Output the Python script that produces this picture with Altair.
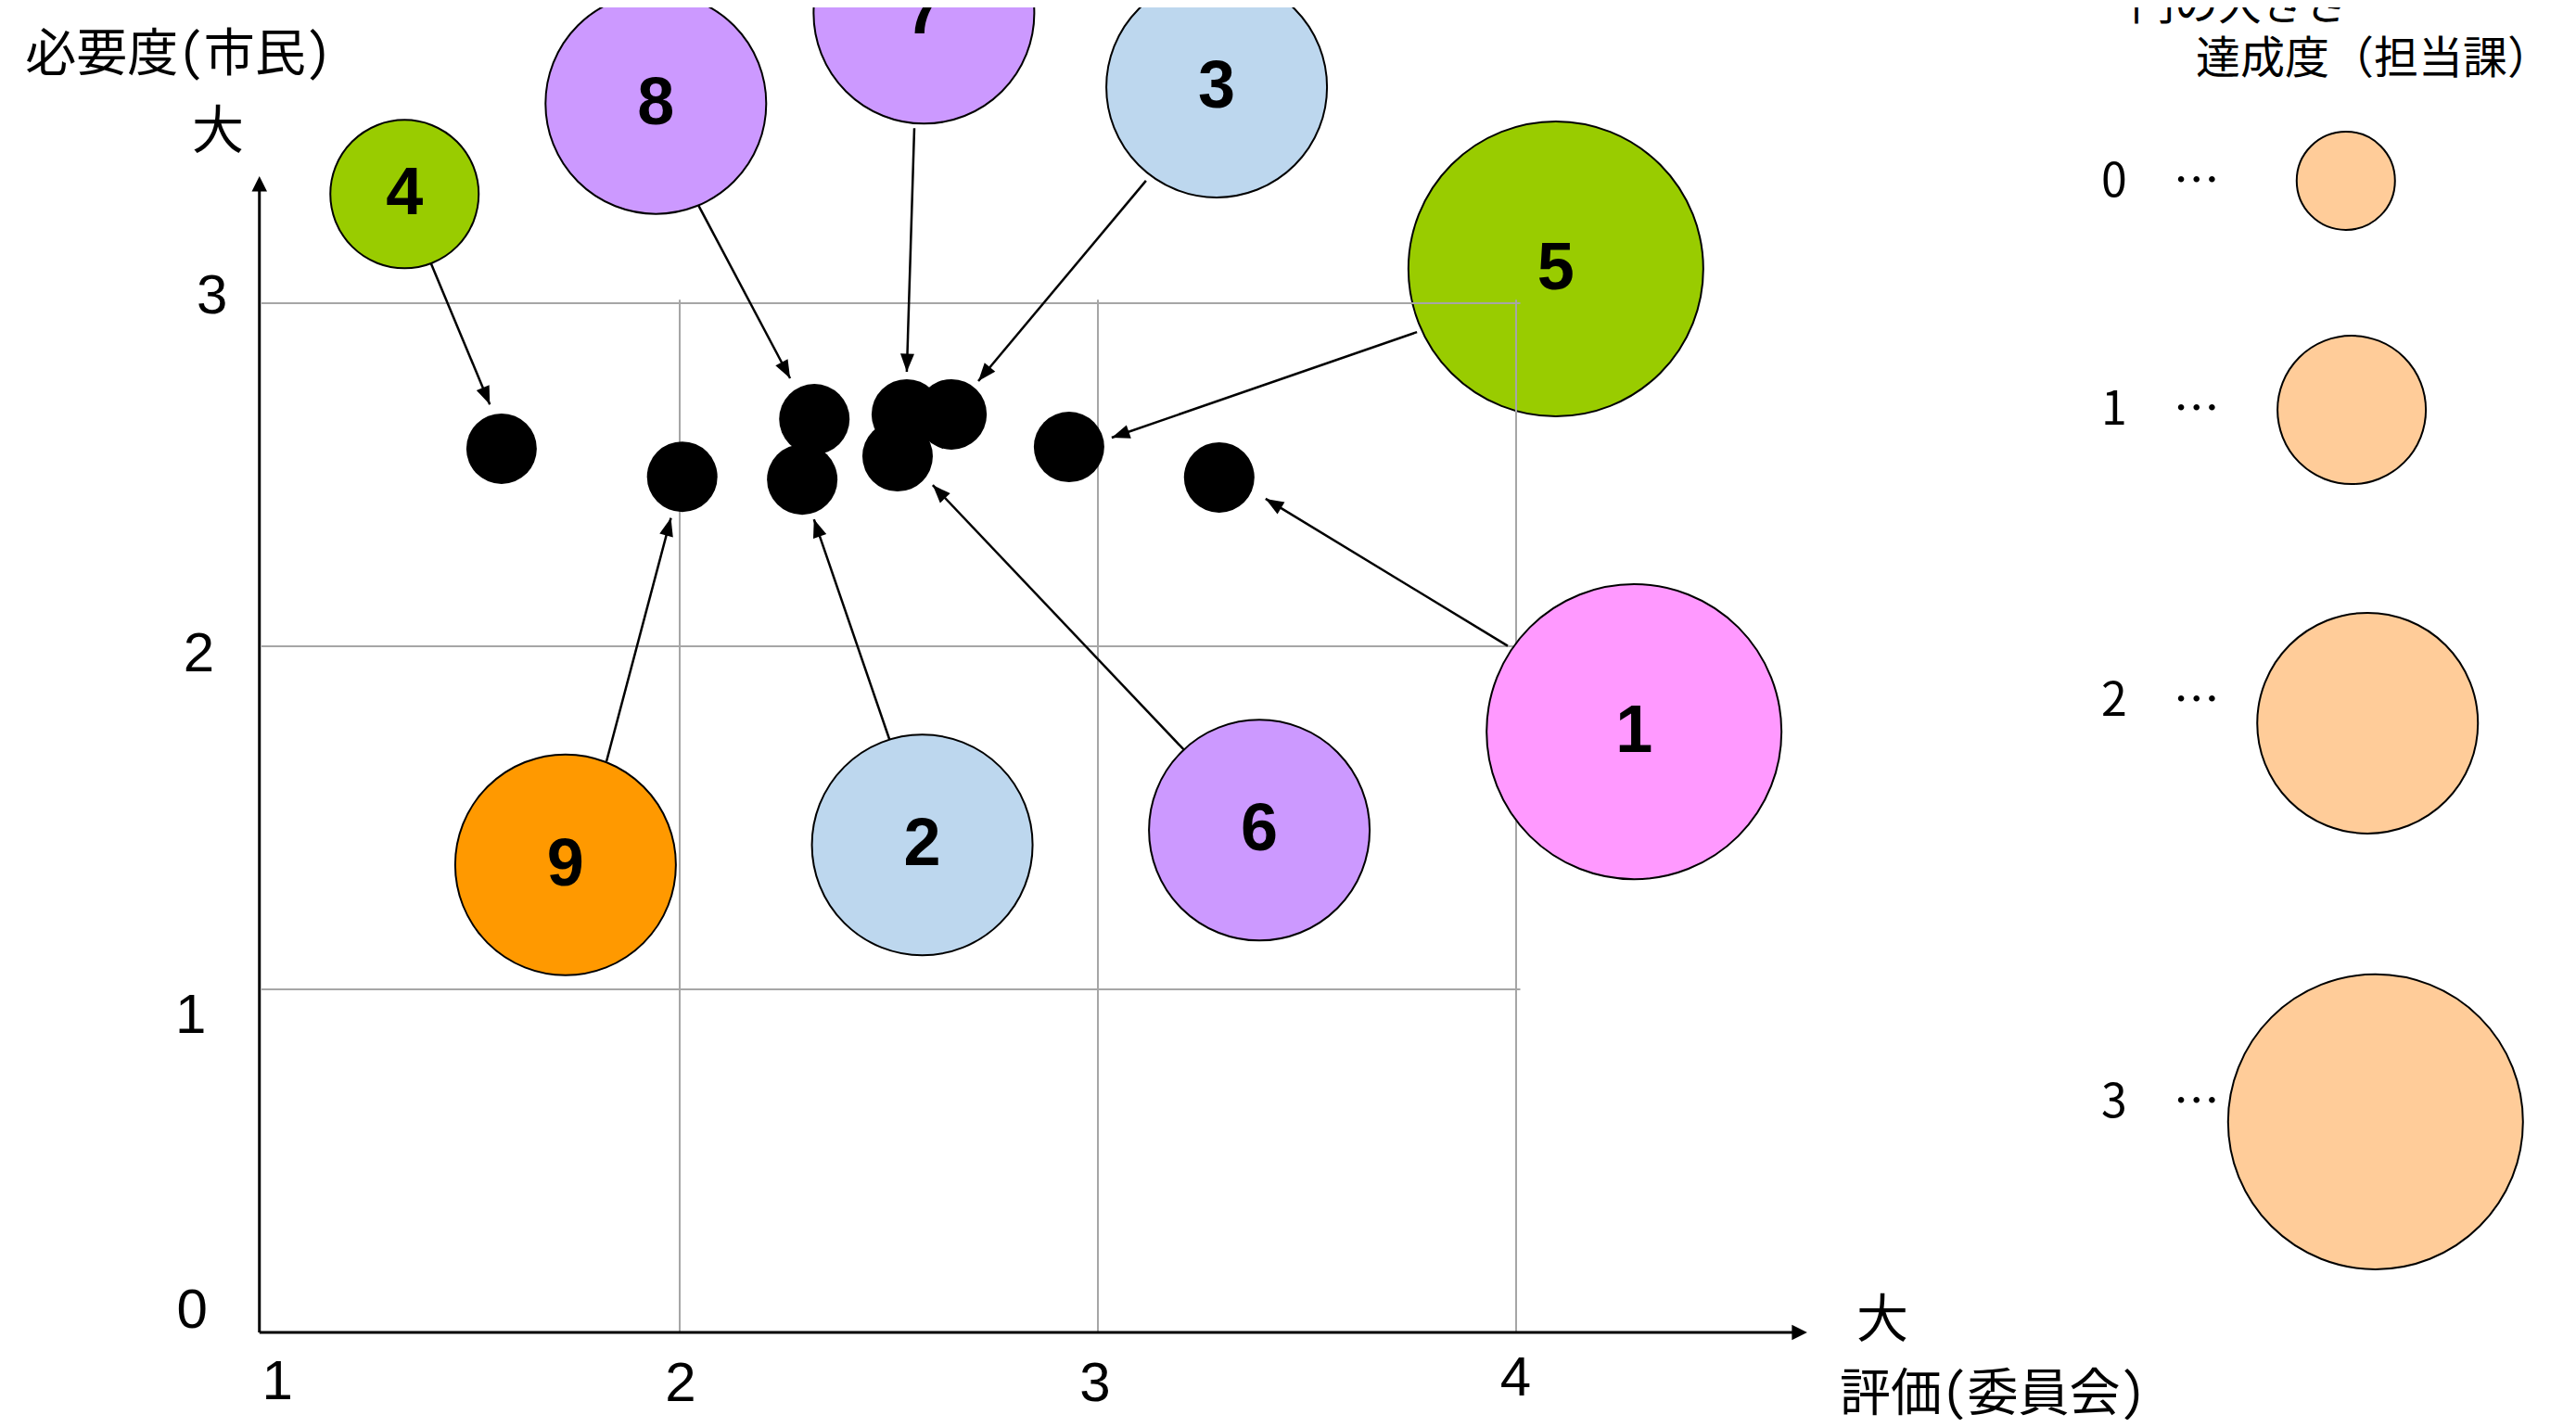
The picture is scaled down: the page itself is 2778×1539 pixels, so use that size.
import math
import altair as alt
import pandas as pd

# ---------------- data ----------------
ids = ["1", "2", "3", "4", "5", "6", "7", "8", "9"]
groups = ["pink", "blue", "blue", "green", "green", "purple", "purple", "purple", "orange"]
# bubble (label) positions in chart units
bubble_x = [4.282, 2.580, 3.284, 1.342, 4.095, 3.386, 2.584, 1.943, 1.727]
bubble_y = [1.751, 1.421, 3.630, 3.318, 3.100, 1.464, 3.845, 3.582, 1.363]
# 達成度(担当課)
achievement = [3, 2, 2, 1, 3, 2, 2, 2, 2]
# black dots: 評価(委員会) x 必要度(市民)
dot_x = [3.290, 2.293, 2.650, 1.574, 2.931, 2.521, 2.543, 2.322, 2.006]
dot_y = [2.492, 2.486, 2.676, 2.576, 2.581, 2.554, 2.676, 2.662, 2.494]
# leader arrows (from bubble edge to dot)
arrow_x0 = [3.980, 2.502, 3.115, 1.405, 3.763, 3.209, 2.561, 2.045, 1.825]
arrow_y0 = [2.001, 1.727, 3.357, 3.117, 2.916, 1.694, 3.510, 3.285, 1.665]
arrow_x1 = [3.401, 2.321, 2.714, 1.546, 3.033, 2.605, 2.543, 2.264, 1.979]
arrow_y1 = [2.430, 2.370, 2.773, 2.705, 2.608, 2.470, 2.800, 2.781, 2.374]

tick_x_labels = ["1", "2", "3", "4"]
tick_x_pos = [1.038, 2.002, 2.993, 3.999]
tick_x_ypos = [-0.146, -0.151, -0.151, -0.136]
tick_y_labels = ["0", "1", "2", "3"]
tick_y_xpos = [0.834, 0.831, 0.850, 0.882]
tick_y_pos = [0.062, 0.922, 1.976, 3.019]

grid_y_levels = [1, 2, 3]
grid_x_levels = [2, 3, 4]

left_texts = ["必要度(市民)", "評価(委員会)"]
left_text_x = [0.435, 4.774]
left_text_y = [3.724, -0.180]
big_texts = ["大", "大"]
big_text_x = [0.896, 4.876]
big_text_y = [3.497, 0.032]

legend_head = "円の大きさ　…"
legend_head_xy = (5.470, 3.826)
legend_sub = "達成度（担当課）"
legend_sub_xy = (5.625, 3.708)
legend_levels = [0, 1, 2, 3]
legend_labels = ["0　…", "1　…", "2　…", "3　…"]
legend_label_x = [5.399, 5.399, 5.399, 5.399]
legend_label_y = [3.351, 2.686, 1.838, 0.668]
legend_circle_x = [5.984, 5.998, 6.036, 6.055]
legend_circle_y = [3.357, 2.689, 1.776, 0.614]

# ---------------- scales / styles ----------------
W, H = 2762, 1523
PXX, PXY = 451.0, 370.0
XS = alt.Scale(domain=[0.39246, 6.51663], nice=False, zero=False)
YS = alt.Scale(domain=[-0.25405, 3.86216], nice=False, zero=False)
SIZE = alt.Scale(domain=[0, 1, 2, 3], range=[11236, 25600, 56644, 101124])
COL = alt.Scale(domain=["pink", "blue", "green", "purple", "orange", "legend"],
                range=["#FF99FF", "#BDD7EE", "#99CC00", "#CC99FF", "#FF9900", "#FFCC99"])
CJK = "Noto Sans Mono CJK JP, Noto Sans CJK JP, sans-serif"
CJKP = "Noto Sans CJK JP, sans-serif"
NARROW = "Liberation Sans Narrow, Liberation Sans, Arial, sans-serif"
ARROW = "M0,0L-0.5,1.3L0.5,1.3Z"
AXARROW = "M0,0L-0.55,1.1L0.55,1.1Z"


def ex(f="x"):
    return alt.X(f"{f}:Q", scale=XS, axis=None)


def ey(f="y"):
    return alt.Y(f"{f}:Q", scale=YS, axis=None)


bub = pd.DataFrame({"id": ids, "group": groups, "x": bubble_x, "y": bubble_y,
                    "ach": achievement})
dots = pd.DataFrame({"id": ids, "x": dot_x, "y": dot_y})
arr = pd.DataFrame({"id": ids, "x": arrow_x0, "y": arrow_y0, "x2": arrow_x1, "y2": arrow_y1})
arr["ang"] = [
    math.degrees(math.atan2((b - a) * PXX, (d - c) * PXY)) % 360
    for a, b, c, d in zip(arrow_x0, arrow_x1, arrow_y0, arrow_y1)
]
grid = pd.DataFrame(
    [{"x": 1.0, "x2": 4.01, "y": v, "y2": v} for v in grid_y_levels]
    + [{"x": v, "x2": v, "y": 0.0, "y2": 3.01} for v in grid_x_levels]
)
axes = pd.DataFrame([{"x": 0.995, "x2": 0.995, "y": 0.0, "y2": 3.34},
                     {"x": 0.995, "x2": 4.67, "y": 0.0, "y2": 0.0}])
axheads = pd.DataFrame([{"x": 0.995, "y": 3.370, "ang": 0}, {"x": 4.696, "y": 0.0, "ang": 90}])
tx = pd.DataFrame({"t": tick_x_labels, "x": tick_x_pos, "y": tick_x_ypos})
ty = pd.DataFrame({"t": tick_y_labels, "x": tick_y_xpos, "y": tick_y_pos})
lt = pd.DataFrame({"t": left_texts, "x": left_text_x, "y": left_text_y})
bt = pd.DataFrame({"t": big_texts, "x": big_text_x, "y": big_text_y})
leg_c = pd.DataFrame({"group": ["legend"] * 4, "ach": legend_levels,
                      "x": legend_circle_x, "y": legend_circle_y})
leg_t = pd.DataFrame({"t": legend_labels, "x": legend_label_x, "y": legend_label_y})
leg_head = pd.DataFrame({"t": [legend_head], "x": [legend_head_xy[0]], "y": [legend_head_xy[1]]})
leg_sub = pd.DataFrame({"t": [legend_sub], "x": [legend_sub_xy[0]], "y": [legend_sub_xy[1]]})


def bubbles(data, flt):
    return alt.Chart(data).transform_filter(flt).mark_circle(
        opacity=1, stroke="black", strokeWidth=2
    ).encode(
        x=ex(), y=ey(),
        size=alt.Size("ach:Q", scale=SIZE, legend=None),
        color=alt.Color("group:N", scale=COL, legend=None),
    )


layers = [
    bubbles(bub, "datum.id == '5'"),
    alt.Chart(grid).mark_rule(color="#A6A6A6", strokeWidth=2).encode(
        x=ex(), y=ey(), x2="x2:Q", y2="y2:Q"),
    alt.Chart(axes).mark_rule(color="black", strokeWidth=3).encode(
        x=ex(), y=ey(), x2="x2:Q", y2="y2:Q"),
    alt.Chart(axheads).mark_point(shape=AXARROW, filled=True, opacity=1, color="black",
                                  size=900).encode(
        x=ex(), y=ey(), angle=alt.Angle("ang:Q", scale=None)),
    alt.Chart(arr).mark_rule(color="black", strokeWidth=2.5).encode(
        x=ex(), y=ey(), x2="x2:Q", y2="y2:Q"),
    alt.Chart(arr).mark_point(shape=ARROW, filled=True, opacity=1, color="black",
                              size=900).encode(
        x=alt.X("x2:Q", scale=XS, axis=None), y=alt.Y("y2:Q", scale=YS, axis=None),
        angle=alt.Angle("ang:Q", scale=None)),
    alt.Chart(dots).mark_circle(opacity=1, color="black", size=5776).encode(x=ex(), y=ey()),
    bubbles(bub, "datum.id != '5'"),
    alt.Chart(bub).mark_text(font=NARROW, fontSize=72, fontWeight="bold", color="black",
                             align="center", baseline="middle").encode(
        x=ex(), y=ey(), text="id:N"),
    alt.Chart(tx).mark_text(font=NARROW, fontSize=60, color="black",
                            align="center", baseline="middle").encode(
        x=ex(), y=ey(), text="t:N"),
    alt.Chart(ty).mark_text(font=NARROW, fontSize=60, color="black",
                            align="center", baseline="middle").encode(
        x=ex(), y=ey(), text="t:N"),
    alt.Chart(lt).mark_text(font=CJK, fontSize=55, color="black",
                            align="left", baseline="middle").encode(
        x=ex(), y=ey(), text="t:N"),
    alt.Chart(bt).mark_text(font=CJK, fontSize=56, color="black",
                            align="center", baseline="middle").encode(
        x=ex(), y=ey(), text="t:N"),
    alt.Chart(leg_c).mark_circle(opacity=1, stroke="black", strokeWidth=2).encode(
        x=ex(), y=ey(),
        size=alt.Size("ach:Q", scale=SIZE, legend=None),
        color=alt.Color("group:N", scale=COL, legend=None)),
    alt.Chart(leg_t).mark_text(font=CJKP, fontSize=50, color="black",
                               align="left", baseline="middle").encode(
        x=ex(), y=ey(), text="t:N"),
    alt.Chart(leg_head).mark_text(font=CJKP, fontSize=47, color="black",
                                  align="left", baseline="alphabetic").encode(
        x=ex(), y=ey(), text="t:N"),
    alt.Chart(leg_sub).mark_text(font=CJKP, fontSize=48, color="black",
                                 align="left", baseline="middle").encode(
        x=ex(), y=ey(), text="t:N"),
]

chart = alt.layer(*layers).properties(
    width=W, height=H, padding=0, autosize="none"
).configure_view(stroke=None)

chart.save("out.html", embed_options={"renderer": "svg", "actions": False})
